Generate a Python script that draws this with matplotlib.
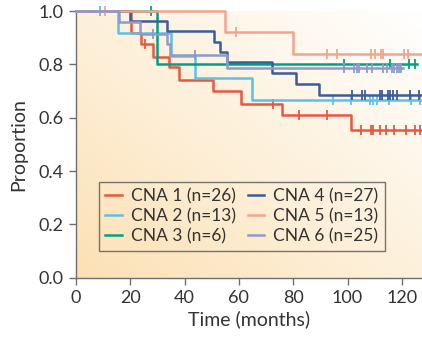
import numpy as np
import matplotlib
matplotlib.use("Agg")
import matplotlib.pyplot as plt

plt.rcParams['font.family'] = ['Lato', 'DejaVu Sans']
plt.rcParams['font.size'] = 12

labels = ["CNA 1 (n=26)", "CNA 2 (n=13)", "CNA 3 (n=6)",
          "CNA 4 (n=27)", "CNA 5 (n=13)", "CNA 6 (n=25)"]
colors = ["#E8573E", "#5DC0E6", "#00A087", "#3C5A9E", "#F4A48C", "#8D9BCA"]

# event times and survival after each step
cna1_t = [0, 20.4, 23.9, 28.3, 34.2, 38.0, 50.5, 60.7, 75.7, 101.2]
cna1_s = [1.0, 0.917, 0.875, 0.829, 0.791, 0.741, 0.699, 0.653, 0.610, 0.556]
cna1_c = [25.6, 72.4, 82.1, 92.6, 105.0, 108.5, 109.2, 111.8, 114.1, 117.1, 121.6, 124.7, 126.7]

cna2_t = [0, 15.6, 35.0, 43.8, 64.7]
cna2_s = [1.0, 0.917, 0.833, 0.750, 0.667]
cna2_c = [8.8, 94.5, 101.3, 108.2, 109.5, 110.7, 115.4, 123.2, 126.6]

cna3_t = [0, 29.8]
cna3_s = [1.0, 0.80]
cna3_c = [27.6, 98.8, 115.5, 122.6, 124.9]

cna4_t = [0, 19.8, 33.4, 50.7, 53.0, 55.5, 72.3, 81.0, 89.6]
cna4_s = [1.0, 0.962, 0.924, 0.885, 0.847, 0.808, 0.767, 0.727, 0.686]
cna4_c = [101.5, 105.2, 106.4, 112.0, 112.8, 114.8, 115.7, 116.9, 118.1, 123.1, 126.4]

cna5_t = [0, 55.0, 80.0]
cna5_s = [1.0, 0.923, 0.839]
cna5_c = [10.6, 59.0, 92.6, 96.2, 108.6, 110.0, 112.2, 112.9, 120.6, 122.1]

cna6_t = [0, 15.9, 23.6, 33.4, 34.8, 55.7]
cna6_s = [1.0, 0.958, 0.916, 0.875, 0.835, 0.787]
cna6_c = [28.2, 43.8, 98.8, 102.5, 103.3, 104.2, 107.3, 109.0, 113.1, 114.6,
          116.3, 117.2, 118.1, 118.9, 119.7]

end_times = [130, 130, 125.5, 130, 130, 120.5]

curves = [(cna1_t, cna1_s, cna1_c), (cna2_t, cna2_s, cna2_c), (cna3_t, cna3_s, cna3_c),
          (cna4_t, cna4_s, cna4_c), (cna5_t, cna5_s, cna5_c), (cna6_t, cna6_s, cna6_c)]

fig = plt.figure(figsize=(4.22, 3.38), dpi=100)
ax = fig.add_axes([0.180, 0.178, 0.820, 0.789])

# cream gradient, orange bottom-left -> white top-right
gx, gy = np.meshgrid(np.linspace(0, 1, 200), np.linspace(0, 1, 200))
g = np.clip((gx + gy) / 2.0, 0, 1) ** 0.9
c0 = np.array([252, 224, 178]) / 255.
c1 = np.array([255, 255, 255]) / 255.
img = c0[None, None, :] * (1 - g[..., None]) + c1[None, None, :] * g[..., None]
ax.imshow(img, extent=[0, 1, 0, 1], origin='lower', transform=ax.transAxes,
          aspect='auto', zorder=0)

order = [4, 5, 2, 3, 1, 0]
for i in order:
    t, s, c = curves[i]
    tt = list(t) + [end_times[i]]
    ss = list(s) + [s[-1]]
    ax.step(tt, ss, where='post', color=colors[i], lw=1.8, zorder=3 + i * 0.1,
            clip_on=False, label=labels[i])
    idx = np.searchsorted(t, c, side='right') - 1
    cy = np.array(s)[idx]
    ax.plot(c, cy, ls='none', marker='|', ms=7, mew=1.3, color=colors[i],
            zorder=3 + i * 0.1, clip_on=False)

ax.set_xlim(0, 127.4)
ax.set_ylim(0, 1.0)
ax.set_xticks([0, 20, 40, 60, 80, 100, 120])
ax.set_yticks([0.0, 0.2, 0.4, 0.6, 0.8, 1.0])
ax.set_yticklabels(["0.0", "0.2", "0.4", "0.6", "0.8", "1.0"])
for sp in ['top', 'right']:
    ax.spines[sp].set_visible(False)
for sp in ['left', 'bottom']:
    ax.spines[sp].set_color('#6e6e6e')
    ax.spines[sp].set_linewidth(1.0)
ax.tick_params(direction='out', length=5, width=1.0, color='#6e6e6e',
               labelcolor='#333333', labelsize=13, pad=4)
ax.set_xlabel("Time (months)", color='#333333', fontsize=14, labelpad=3)
ax.set_ylabel("Proportion", color='#333333', fontsize=14, labelpad=8)

handles, labs = ax.get_legend_handles_labels()
hmap = dict(zip(labs, handles))
leg = ax.legend([hmap[l] for l in labels], labels, ncol=2, loc='lower left',
                bbox_to_anchor=(0.066, 0.101), borderaxespad=0, frameon=True,
                fancybox=False, handlelength=0.95, handletextpad=0.5,
                columnspacing=0.7, labelspacing=0.22, fontsize=12.5,
                borderpad=0.38)
leg.get_frame().set_edgecolor('#555555')
leg.get_frame().set_facecolor('none')
leg.get_frame().set_linewidth(1.0)
for txt in leg.get_texts():
    txt.set_color('#333333')

fig.savefig("out.png", dpi=100)
